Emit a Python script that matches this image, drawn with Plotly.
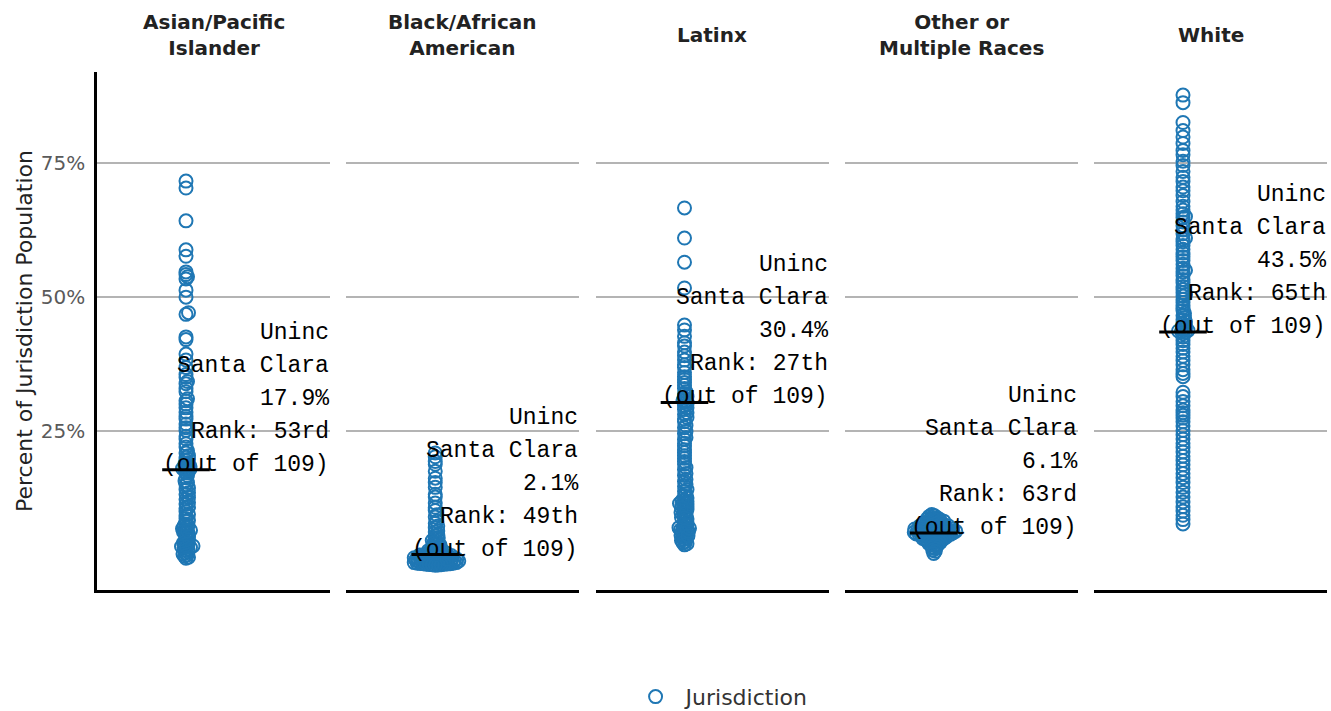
import plotly.graph_objects as go

# ---------------- data ----------------
groups = ["Asian/Pacific<br>Islander", "Black/African<br>American", "Latinx",
          "Other or<br>Multiple Races", "White"]

asian = [71.6, 70.3, 64.2, 58.8, 57.6, 54.7, 54.2, 53.8, 53.4, 51.3,
         50.0, 47.1, 46.8, 42.6, 42.1, 39.4, 38.3, 36.9, 35.6, 35.1,
         34.3, 33.9, 33.0, 32.4, 31.1, 30.7, 30.1, 29.4, 28.6, 27.8,
         27.3, 26.4, 25.7, 25.2, 24.1, 23.6, 22.7, 22.1, 21.4, 21.0,
         20.5, 20.2, 19.8, 19.6, 19.2, 19.0, 18.7, 18.5, 18.4, 18.2,
         18.1, 18.0, 17.9, 17.7, 17.3, 16.8, 16.4, 15.8, 15.5, 15.1,
         14.5, 14.2, 13.6, 13.3, 12.7, 12.4, 11.8, 11.5, 10.9, 10.7,
         10.1, 9.6, 9.4, 8.8, 8.5, 8.3, 7.8, 7.5, 7.4, 7.1,
         6.9, 6.7, 6.6, 6.3, 6.1, 5.9, 5.6, 5.4, 5.1, 4.8,
         4.5, 4.3, 4.0, 3.9, 3.7, 3.6, 3.4, 3.3, 3.1, 2.9,
         2.6, 2.4, 2.2, 2.0, 1.8, 1.6, 1.4, 3.5, 6.5]

black = [21.0, 20.3, 19.4, 18.9, 17.6, 16.3, 15.5, 14.6, 13.3, 12.8,
         11.7, 10.9, 10.3, 9.5, 9.1, 8.3, 7.9, 7.4, 7.1, 6.5,
         6.3, 5.8, 5.6, 5.2, 5.1, 4.7, 4.6, 4.3, 4.2, 3.9,
         3.8, 3.6, 3.5, 3.4, 3.2, 3.1, 3.0, 2.9, 2.8, 2.7,
         2.6, 2.55, 2.5, 2.4, 2.35, 2.3, 2.2, 2.15, 2.1,
         2.05, 2.0, 1.95, 1.9, 1.9, 1.85, 1.8, 1.75, 1.7, 1.7,
         1.65, 1.6, 1.55, 1.5, 1.5, 1.45, 1.4, 1.4, 1.35, 1.3,
         1.3, 1.25, 1.2, 1.2, 1.15, 1.1, 1.1, 1.05, 1.0, 1.0,
         0.95, 0.9, 0.9, 0.85, 0.8, 0.8, 0.75, 0.7, 0.7, 0.65,
         0.6, 0.6, 0.55, 0.5, 0.5, 0.45, 0.4, 0.4, 0.35, 0.3,
         0.3, 0.25, 0.2, 0.2, 0.15, 0.1, 1.2, 0.9, 1.5, 0.6]

latinx = [66.6, 61.0, 56.5, 51.7, 44.8, 43.9, 42.7, 41.5, 40.9, 39.8,
          39.1, 38.3, 37.4, 36.9, 36.0, 35.2, 34.7, 34.1, 33.6, 33.0,
          32.4, 32.0, 31.5, 31.2, 30.8, 30.6, 30.4,
          30.1, 29.8, 29.4, 29.1, 28.5, 28.2, 27.6, 27.3, 26.8, 26.1,
          25.7, 25.0, 24.6, 23.9, 23.5, 22.8, 22.3, 21.6, 21.1, 20.5,
          20.0, 19.4, 18.9, 18.3, 17.9, 17.2, 16.8, 16.1, 15.7, 15.2,
          14.8, 14.2, 13.9, 13.4, 13.0, 12.6, 12.3, 12.0, 11.8, 11.6,
          11.4, 11.2, 11.0, 10.7, 10.5, 10.2, 9.9, 9.6, 9.3, 9.0,
          8.7, 8.4, 8.1, 7.8, 7.6, 7.3, 7.1, 6.9, 6.7, 6.5,
          6.3, 6.1, 5.9, 5.7, 5.5, 5.3, 5.1, 4.9, 4.7, 4.5,
          4.3, 4.1, 3.9, 11.5, 10.8, 6.8, 6.4, 12.1, 7.0, 5.6,
          8.9, 9.8]

other = [9.55, 9.35, 9.2, 9.05, 8.93, 8.83, 8.73, 8.64, 8.55,
         8.46, 8.38, 8.31, 8.24, 8.17, 8.1, 8.03,
         7.96, 7.9, 7.84, 7.79, 7.73, 7.68, 7.63, 7.58, 7.53,
         7.47, 7.42, 7.38, 7.33, 7.28, 7.24, 7.19, 7.15, 7.1, 7.06, 7.02,
         6.97, 6.93, 6.89, 6.86, 6.82, 6.79, 6.75, 6.72, 6.69, 6.65,
         6.62, 6.59, 6.55, 6.52,
         6.48, 6.45, 6.42, 6.38, 6.35, 6.32, 6.28, 6.25, 6.22, 6.19,
         6.16, 6.13, 6.1,
         6.07, 6.04, 6.0, 5.97, 5.94, 5.9, 5.87, 5.84, 5.8, 5.77,
         5.73, 5.7, 5.66, 5.62, 5.58, 5.55, 5.5,
         5.45, 5.4, 5.35, 5.3, 5.2, 5.15, 5.1, 5.05, 5.0,
         4.95, 4.9, 4.8, 4.75, 4.7, 4.6, 4.55,
         4.45, 4.35, 4.25, 4.15, 4.05, 3.9, 3.8, 3.6, 3.4, 3.2,
         2.9, 2.7, 2.3]

white = [87.6, 86.2, 82.5, 81.0, 79.8, 78.6, 77.3, 76.5, 75.3, 74.5,
         73.4, 72.3, 71.5, 70.5, 69.8, 68.9, 67.8, 66.9, 66.2, 65.5,
         64.8, 64.0, 63.3, 62.5, 61.8, 61.0, 60.3, 59.6, 58.9, 58.2,
         57.5, 56.8, 56.1, 55.4, 54.7, 54.0, 53.3, 52.7, 52.0, 51.4,
         50.8, 50.2, 49.6, 49.0, 48.5, 48.0, 47.5, 47.0, 46.6, 46.2,
         45.8, 45.4, 45.1, 44.8, 44.5, 44.2, 44.0, 43.8, 43.7, 43.6,
         60.8, 55.0, 65.0, 50.5, 43.5,
         43.2, 42.6, 41.9, 41.2, 40.5, 39.8, 39.0, 38.2, 37.4, 36.5,
         35.8, 35.2, 32.3, 31.5, 30.6, 29.8, 29.0, 28.5, 28.0, 27.5,
         26.8, 26.0, 25.2, 24.4, 23.6, 22.8, 22.0, 21.2, 20.4, 19.6,
         18.8, 18.0, 17.2, 16.4, 15.5, 14.6, 13.7, 12.8, 11.9, 11.0,
         10.2, 9.4, 8.6, 7.8]

series = [asian, black, latinx, other, white]
highlight = [17.9, 2.1, 30.4, 6.1, 43.5]
ranks = ["53rd", "49th", "27th", "63rd", "65th"]
place_lines = ["Uninc", "Santa Clara"]
total = 109

y_ticks = [25, 50, 75]
y_tick_text = ["25%", "50%", "75%"]

# ---------------- layout helpers ----------------
BLUE = "#1f77b4"
YMIN, YMAX = -4.5, 91.9
PLOT_H = 518
PX_PER_UNIT = PLOT_H / (YMAX - YMIN)
PANEL_W = 233.0
GAP = 16.25
TOTAL_W = 5 * PANEL_W + 4 * GAP
LEFT_PX = 89.0


def swarm(vals, d=2.6):
    """Beeswarm offsets (in pixels) for values, allowing overlap distance d."""
    idx = sorted(range(len(vals)), key=lambda i: vals[i])
    placed = []
    xs = [0.0] * len(vals)
    for i in idx:
        y = vals[i] * PX_PER_UNIT
        near = [(cx, cy) for cx, cy in placed if abs(cy - y) < d]
        k = 0
        while True:
            step = (k + 1) // 2 * 0.5
            cand = step if k % 2 else -step
            if all((cx - cand) ** 2 + (cy - y) ** 2 >= d * d for cx, cy in near):
                break
            k += 1
        xs[i] = cand
        placed.append((cand, y))
    return xs


fig = go.Figure()
annotations = []
layout_axes = {}

for i, vals in enumerate(series):
    n = i + 1
    xa = "x" if n == 1 else f"x{n}"
    ya = "y" if n == 1 else f"y{n}"
    xs = swarm(vals)
    fig.add_trace(go.Scatter(
        x=xs, y=vals, mode="markers", xaxis=xa, yaxis=ya,
        name="Jurisdiction", legendgroup="j", showlegend=(i == 0),
        marker=dict(symbol="circle-open", size=13, color=BLUE,
                    line=dict(width=2, color=BLUE)),
        hoverinfo="y"))
    fig.add_trace(go.Scatter(
        x=[0], y=[highlight[i]], mode="markers", xaxis=xa, yaxis=ya,
        showlegend=False, hoverinfo="skip",
        marker=dict(symbol="line-ew", size=34, color="black",
                    line=dict(width=3, color="black"))))

    start = i * (PANEL_W + GAP) / TOTAL_W
    end = start + PANEL_W / TOTAL_W
    xkey = "xaxis" if n == 1 else f"xaxis{n}"
    ykey = "yaxis" if n == 1 else f"yaxis{n}"
    layout_axes[xkey] = dict(
        domain=[start, end], range=[-LEFT_PX, PANEL_W - LEFT_PX], anchor=ya,
        showline=True, linecolor="black", linewidth=3,
        showticklabels=False, showgrid=False, zeroline=False, ticks="")
    yd = dict(
        anchor=xa, range=[YMIN, YMAX], tickvals=y_ticks, ticktext=y_tick_text,
        showgrid=True, gridcolor="#b4b4b4", gridwidth=1.5, zeroline=False,
        showline=(i == 0), linecolor="black", linewidth=2.5,
        showticklabels=(i == 0), ticks="",
        tickfont=dict(family="DejaVu Sans", size=20, color="#5a5a5a"))
    if i == 0:
        yd["title"] = dict(text="Percent of Jurisdiction Population",
                           font=dict(family="DejaVu Sans", size=22, color="#222222"),
                           standoff=3)
        yd["ticklabelstandoff"] = 5
    else:
        yd["matches"] = "y"
    layout_axes[ykey] = yd

    # panel title
    annotations.append(dict(
        text=f"<b>{groups[i]}</b>", xref=f"{xa} domain", x=0.5,
        yref="paper", y=1, yshift=37, yanchor="middle", xanchor="center",
        showarrow=False, font=dict(family="DejaVu Sans", size=20, color="#222222")))

    # label lines
    lines = place_lines + [f"{highlight[i]}%", f"Rank: {ranks[i]}", f"(out of {total})"]
    for k, line in enumerate(lines):
        annotations.append(dict(
            text=line, xref=f"{xa} domain", x=1, yref=ya, y=highlight[i],
            xanchor="right", yanchor="middle", yshift=5 + 33 * (len(lines) - 1 - k),
            showarrow=False, borderpad=0,
            font=dict(family="Courier New, Liberation Mono, monospace", size=23,
                      color="black")))

fig.update_layout(
    width=1331, height=711,
    margin=dict(l=97, r=4, t=72, b=121),
    plot_bgcolor="white", paper_bgcolor="white",
    annotations=annotations,
    showlegend=True,
    legend=dict(orientation="h", xref="container", yref="container",
                x=0.541, xanchor="center", y=0.02, yanchor="middle",
                itemwidth=50,
                font=dict(family="DejaVu Sans", size=22, color="#333333")),
    **layout_axes)

fig.write_html("out.html", config={"displayModeBar": False},
               post_script="document.body.style.margin='0px';")
